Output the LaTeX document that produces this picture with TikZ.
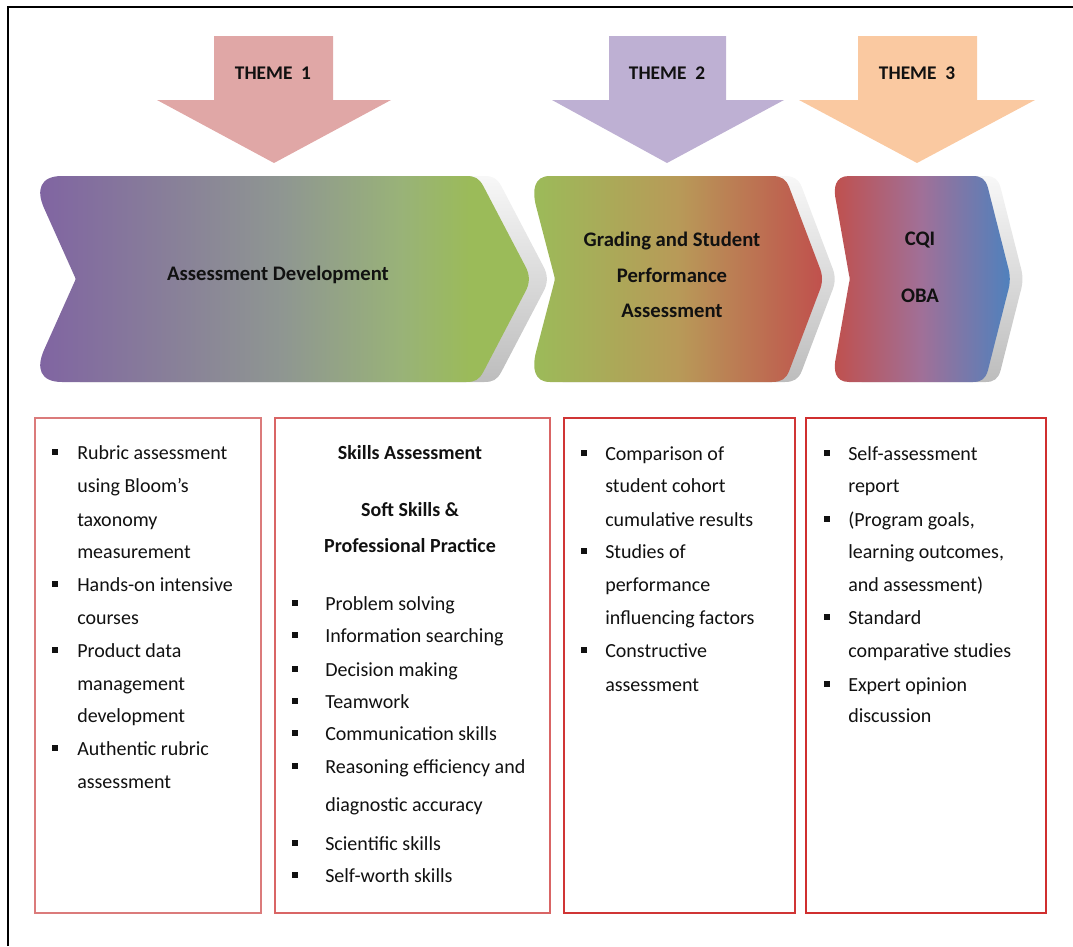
\documentclass[tikz,border=0pt]{standalone}
\usepackage{fontspec}
\setmainfont{Carlito}
\definecolor{themeA}{HTML}{E0A7A6}
\definecolor{themeB}{HTML}{BEB0D3}
\definecolor{themeC}{HTML}{FAC9A1}
\definecolor{cpurple}{HTML}{8064A2}
\definecolor{cgreen}{HTML}{9BBB59}
\definecolor{cred}{HTML}{C0504D}
\definecolor{cblue}{HTML}{4F81BD}
\definecolor{boxA}{HTML}{DB7B7B}
\definecolor{boxB}{HTML}{D96565}
\definecolor{boxC}{HTML}{D03535}
\definecolor{boxD}{HTML}{D02F2F}
\definecolor{ink}{HTML}{111111}
% purple -> grey -> green, green reached about three quarters across
\pgfdeclarehorizontalshading{chevA}{100bp}{rgb(0bp)=(0.502,0.392,0.635); rgb(25bp)=(0.502,0.392,0.635); rgb(50bp)=(0.56,0.59,0.57); rgb(62bp)=(0.6,0.7,0.47); rgb(69bp)=(0.608,0.733,0.349); rgb(75bp)=(0.608,0.733,0.349); rgb(100bp)=(0.608,0.733,0.349)}
% chevron outlines, every corner rounded by hand
\newcommand\chevOne{(62,176) -- (466,176) .. controls (475,176) and (479,178) .. (483.6,186.6) -- (525.5,266.6) .. controls (530,275) and (530,283) .. (525.5,291.4) -- (483.6,371.4) .. controls (479,380) and (475,382) .. (466,382) -- (62,382) .. controls (40,382) and (36,368) .. (44,350) -- (74,283) .. controls (76,279) .. (74,275) -- (44,208) .. controls (36,190) and (40,176) .. (62,176) -- cycle}
\newcommand\chevTwo{(550,176) -- (772,176) .. controls (781,176) and (786,179) .. (789.2,187.2) -- (819,265.9) .. controls (823,275) and (823,283) .. (819,292.1) -- (789.2,370.8) .. controls (786,379) and (781,382) .. (772,382) -- (550,382) .. controls (534,382) and (532,368) .. (536,352) -- (554,283) .. controls (555,279) .. (554,275) -- (536,206) .. controls (532,190) and (534,176) .. (550,176) -- cycle}
\newcommand\chevThree{(849,176) -- (973,176) .. controls (981,176) and (985.5,179) .. (987.9,187.6) -- (1007.6,265.4) .. controls (1010.5,275) and (1010.5,283) .. (1007.6,292.6) -- (987.9,370.4) .. controls (985.5,379) and (981,382) .. (973,382) -- (849,382) .. controls (835,382) and (833,370) .. (836,357) -- (849,283) .. controls (850,279) .. (849,275) -- (836,201) .. controls (833,188) and (835,176) .. (849,176) -- cycle}
\begin{document}
\begin{tikzpicture}[x=0.75pt,y=-0.75pt,
  themetext/.style={font=\fontsize{14.5}{17}\selectfont\bfseries, text=ink, inner sep=0pt},
  chevshadow/.style={top color=white!97!black, bottom color=white!74!black, draw=none},
  chevtext/.style={font=\fontsize{15.5}{18}\selectfont\bfseries, text=ink, inner sep=0pt, align=center},
  listbox/.style={line width=1.5pt, fill=white},
  itemtext/.style={font=\fontsize{15}{18}\selectfont, text=ink, inner sep=0pt, anchor=base west},
  headtext/.style={font=\fontsize{15}{18}\selectfont\bfseries, text=ink, inner sep=0pt, anchor=base},
  bulletsq/.style={fill=ink, draw=none, minimum width=4.2pt, minimum height=4.8pt, inner sep=0pt}
]
\useasboundingbox (0,0) rectangle (1073,946);

% outer frame (left and top edges)
\draw[line width=1.6pt, black] (8,946) -- (8,7) -- (1073,7);

% theme arrows
\fill[themeA] (214,36) -- (333,36) -- (333,100) -- (391,100) -- (274,163) -- (157,100) -- (214,100) -- cycle;
\fill[themeB] (609,36) -- (726,36) -- (726,100) -- (784,100) -- (667,163) -- (552,100) -- (609,100) -- cycle;
\fill[themeC] (858,36) -- (977,36) -- (977,100) -- (1035,100) -- (917,163) -- (799,100) -- (858,100) -- cycle;
\node[themetext] (th1) at (273,73) {THEME\ \ 1};
\node[themetext] (th2) at (667,73) {THEME\ \ 2};
\node[themetext] (th3) at (917,73) {THEME\ \ 3};

% chevron shadows
\path[chevshadow, xshift=13.5pt] \chevOne;
\path[chevshadow, xshift=9.5pt] \chevTwo;
\path[chevshadow, xshift=9.5pt] \chevThree;

% chevrons
\path[shading=chevA] \chevOne;
\path[left color=cgreen, right color=cred, middle color={rgb,255:red,184;green,154;blue,88}] \chevTwo;
\path[left color=cred, right color=cblue, middle color={rgb,255:red,160;green,112;blue,152}] \chevThree;

\node[chevtext] (c1) at (278,275) {Assessment Development};
\node[chevtext] (c2a) at (672,241) {Grading and Student};
\node[chevtext] (c2b) at (672,275) {Performance};
\node[chevtext] (c2c) at (672,311) {Assessment};
\node[chevtext] (c3a) at (920,240) {CQI};
\node[chevtext] (c3b) at (920,296) {OBA};

% list boxes
\draw[listbox, draw=boxA] (35,418) rectangle (261,913);
\draw[listbox, draw=boxB] (275,418) rectangle (550,913);
\draw[listbox, draw=boxC] (564,418) rectangle (795,913);
\draw[listbox, draw=boxD] (806,418) rectangle (1046,913);

% box 1
\foreach \y/\t/\b [count=\i] in {453/Rubric assessment/1, 486/using Bloom’s/0, 520/taxonomy/0, 552/measurement/0, 585/Hands-on intensive/1, 618/courses/0, 651/Product data/1, 684/management/0, 716/development/0, 749/Authentic rubric/1, 782/assessment/0}{
  \node[itemtext] (a-\i) at (77,\y+6) {\t};
  \ifnum\b=1 \node[bulletsq] (ab-\i) at (55,\y-1) {};\fi
}

% box 2
\node[headtext] (h1) at (410,459) {Skills Assessment};
\node[headtext] (h2) at (410,516) {Soft Skills \&};
\node[headtext] (h3) at (410,552) {Professional Practice};
\foreach \y/\t/\b [count=\i] in {604/Problem solving/1, 636/Information searching/1, 670/Decision making/1, 702/Teamwork/1, 734/Communication skills/1, 767/Reasoning efficiency and/1, 805/diagnostic accuracy/0, 844/Scientific skills/1, 876/Self-worth skills/1}{
  \node[itemtext] (s-\i) at (325,\y+6) {\t};
  \ifnum\b=1 \node[bulletsq] (sb-\i) at (295,\y-1) {};\fi
}

% box 3
\foreach \y/\t/\b [count=\i] in {454/Comparison of/1, 486/student cohort/0, 520/cumulative results/0, 552/Studies of/1, 585/performance/0, 618/influencing factors/0, 651/Constructive/1, 685/assessment/0}{
  \node[itemtext] (g-\i) at (605,\y+6) {\t};
  \ifnum\b=1 \node[bulletsq] (gb-\i) at (584,\y-1) {};\fi
}

% box 4
\foreach \y/\t/\b [count=\i] in {454/Self-assessment/1, 486/report/0, 520/{(Program goals,}/1, 552/{learning outcomes,}/0, 585/{and assessment)}/0, 618/Standard/1, 651/comparative studies/0, 685/Expert opinion/1, 716/discussion/0}{
  \node[itemtext] (q-\i) at (848,\y+6) {\t};
  \ifnum\b=1 \node[bulletsq] (qb-\i) at (827,\y-1) {};\fi
}
\end{tikzpicture}
\end{document}
